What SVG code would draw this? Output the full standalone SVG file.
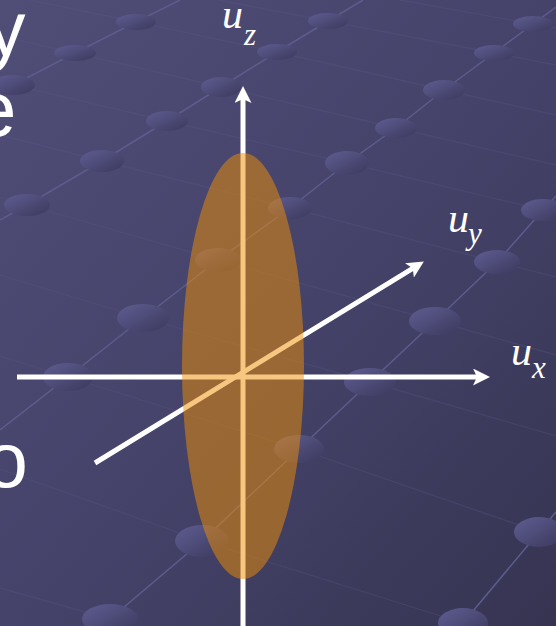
<svg xmlns="http://www.w3.org/2000/svg" width="556" height="626" viewBox="0 0 556 626">
  <defs>
    <linearGradient id="bg" x1="0" y1="0" x2="1" y2="1">
      <stop offset="0" stop-color="#504e77"/>
      <stop offset="0.5" stop-color="#45436a"/>
      <stop offset="1" stop-color="#363451"/>
    </linearGradient>
    <linearGradient id="dotg" x1="0" y1="0" x2="1" y2="1">
      <stop offset="0" stop-color="#5f5d92"/>
      <stop offset="1" stop-color="#3b395c"/>
    </linearGradient>
    <marker id="arr" markerUnits="userSpaceOnUse" viewBox="0 0 17 17" markerWidth="17" markerHeight="17" refX="4" refY="8.5" orient="auto">
      <path d="M17,8.5 L0,0 L4,8.5 L0,17 Z" fill="#ffffff"/>
    </marker>
    <style>
      .chain { fill: none; stroke: #5e5c8e; stroke-width: 1.5; }
      .cross { fill: none; stroke: #5a5888; stroke-width: 1.3; opacity: 0.3; }
      .dot { fill: url(#dotg); }
      .axis { stroke: #ffffff; stroke-width: 5; fill: none; }
      .big { font-family: "Liberation Sans", Arial, sans-serif; font-size: 78px; fill: #ffffff; }
      .lab { font-family: "Liberation Serif", "Times New Roman", serif; font-style: italic; fill: #ffffff; }
      .u { font-size: 42px; }
      .sub { font-size: 31px; }
    </style>
  </defs>

  <rect width="556" height="626" fill="url(#bg)"/>

  <g id="grid-lines">
    <polyline class="cross" points="0,469 202,541 463,623 472,626"/>
    <polyline class="cross" points="0,356 68,377 299,449 539,532 556,538"/>
    <polyline class="cross" points="0,275 143,318 370,382 556,436"/>
    <polyline class="cross" points="0,197 27,205 218,260 435,321 556,355"/>
    <polyline class="cross" points="0,135 102,161 290,208 497,262 556,277"/>
    <polyline class="cross" points="0,82 13,85 167,121 347,163 543,210 556,213"/>
    <polyline class="cross" points="0,36 75,53 221,87 396,128 556,165"/>
    <polyline class="cross" points="30,0 136,22 277,52 444,90 556,115"/>
    <polyline class="cross" points="218,0 328,21 494,53 556,65"/>
    <polyline class="cross" points="400,0 533,24 556,28"/>
    <polyline class="cross" points="0,588 110,619 135,626"/>

    <polyline class="chain" points="0,92 13,85 75,53 136,22 180,0"/>
    <polyline class="chain" points="0,220 27,205 102,161 167,121 221,87 277,52 328,21 363,0"/>
    <polyline class="chain" points="0,430 68,377 143,318 218,260 290,208 347,163 396,128 444,90 494,53 533,24 556,7"/>
    <polyline class="chain" points="100,628 110,619 202,541 299,449 370,382 435,321 497,262 543,210 556,196"/>
    <polyline class="chain" points="450,640 463,623 539,532 556,512"/>
  </g>

  <g id="grid-dots">
    <ellipse class="dot" cx="13" cy="85" rx="22" ry="10"/>
    <ellipse class="dot" cx="75" cy="53" rx="21" ry="8"/>
    <ellipse class="dot" cx="136" cy="22" rx="20" ry="8"/>
    <ellipse class="dot" cx="27" cy="205" rx="23" ry="11"/>
    <ellipse class="dot" cx="102" cy="161" rx="22" ry="11"/>
    <ellipse class="dot" cx="167" cy="121" rx="21" ry="10"/>
    <ellipse class="dot" cx="221" cy="87" rx="20" ry="10"/>
    <ellipse class="dot" cx="277" cy="52" rx="20" ry="8"/>
    <ellipse class="dot" cx="328" cy="21" rx="20" ry="8"/>
    <ellipse class="dot" cx="68" cy="377" rx="25" ry="14"/>
    <ellipse class="dot" cx="143" cy="318" rx="26" ry="14"/>
    <ellipse class="dot" cx="218" cy="260" rx="23" ry="12"/>
    <ellipse class="dot" cx="290" cy="208" rx="22" ry="11"/>
    <ellipse class="dot" cx="347" cy="163" rx="22" ry="12"/>
    <ellipse class="dot" cx="396" cy="128" rx="21" ry="10"/>
    <ellipse class="dot" cx="444" cy="90" rx="21" ry="10"/>
    <ellipse class="dot" cx="494" cy="53" rx="20" ry="8"/>
    <ellipse class="dot" cx="533" cy="24" rx="20" ry="8"/>
    <ellipse class="dot" cx="110" cy="619" rx="28" ry="15"/>
    <ellipse class="dot" cx="202" cy="541" rx="27" ry="16"/>
    <ellipse class="dot" cx="299" cy="449" rx="25" ry="14"/>
    <ellipse class="dot" cx="370" cy="382" rx="26" ry="14"/>
    <ellipse class="dot" cx="435" cy="321" rx="26" ry="14"/>
    <ellipse class="dot" cx="497" cy="262" rx="23" ry="12"/>
    <ellipse class="dot" cx="543" cy="210" rx="22" ry="11"/>
    <ellipse class="dot" cx="463" cy="623" rx="25" ry="15"/>
    <ellipse class="dot" cx="539" cy="532" rx="25" ry="15"/>
  </g>

  <g id="slide-text">
    <text class="big" x="-13.5" y="56">y</text>
    <text class="big" x="-27" y="136">e</text>
    <text class="big" x="-15.5" y="487">o</text>
  </g>

  <g id="axes">
    <line id="axis-z" class="axis" x1="243" y1="626" x2="243" y2="99" marker-end="url(#arr)"/>
    <line id="axis-x" class="axis" x1="17" y1="377" x2="477" y2="377" marker-end="url(#arr)"/>
    <line id="axis-y" class="axis" x1="95" y1="463" x2="412.8" y2="268.3" marker-end="url(#arr)"/>
  </g>

  <g id="ellipsoid">
    <ellipse cx="243" cy="366" rx="61" ry="213" fill="#f08e00" opacity="0.5"/>
  </g>

  <g id="labels">
    <text class="lab u" x="222" y="28">u</text>
    <text class="lab sub" x="244" y="45">z</text>
    <text class="lab u" x="448" y="232">u</text>
    <text class="lab sub" x="468" y="244">y</text>
    <text class="lab u" x="511" y="365">u</text>
    <text class="lab sub" x="532" y="378">x</text>
  </g>
</svg>
